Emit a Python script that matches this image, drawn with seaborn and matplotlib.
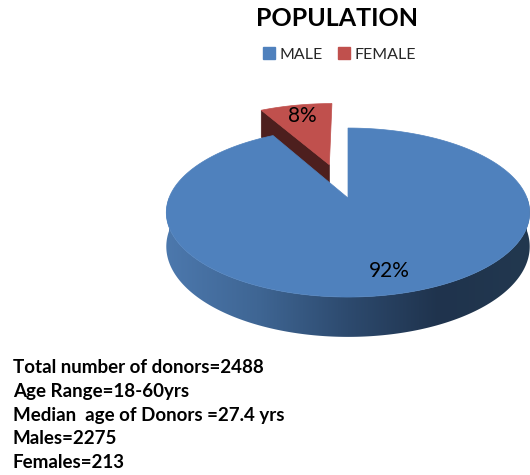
import numpy as np
import matplotlib
matplotlib.use("Agg")
import matplotlib.pyplot as plt
import seaborn as sns
from matplotlib.patches import Polygon
from matplotlib.lines import Line2D

# ---------------- data ----------------
title = "POPULATION"
categories = ["MALE", "FEMALE"]
shares = [92, 8]                     # percent shown on the chart
explode = [0.0, 0.45]
top_colors = ["#4f81bd", "#c0504d"]
face_colors = ["#2b4769", "#4d1f1e"]
side_gradients = [["#4c78ad", "#3f6694", "#2d4a6e", "#1f334d", "#22384f"],
                  ["#8a3533", "#5a2322", "#4d1f1e"]]
info_lines = ["Total number of donors=2488",
              "Age Range=18-60yrs",
              "Median  age of Donors =27.4 yrs",
              "Males=2275",
              "Females=213"]

# ---------------- style ----------------
sns.set_theme(style="white")
plt.rcParams["font.family"] = ["Lato", "DejaVu Sans"]

W, Hpx = 530, 475
fig = plt.figure(figsize=(W / 100, Hpx / 100), dpi=100)
ax = fig.add_axes([0, 0, 1, 1])
ax.set_xlim(0, W)
ax.set_ylim(Hpx, 0)
ax.axis("off")

# projection of the 3D disc (simple perspective)
CX, CY, RX, RY, K, DEPTH = 348, 198, 179, 82, 0.172, 33


def proj(xd, yd, z=0.0):
    xd = np.asarray(xd, float)
    yd = np.asarray(yd, float)
    s = -yd
    f = 1.0 / (1.0 - K * s)
    return CX + RX * xd * f, CY + (RY * s + DEPTH * z) * f


total = float(sum(shares))
start = 90.0
slices = []
cum = 0.0
for i, v in enumerate(shares):
    t1 = start - cum / total * 360.0
    t2 = t1 - v / total * 360.0
    cum += v
    mid = np.deg2rad((t1 + t2) / 2)
    ox, oy = explode[i] * np.cos(mid), explode[i] * np.sin(mid)
    slices.append(dict(i=i, t1=t1, t2=t2, mid=mid, ox=ox, oy=oy))

# back slices first
order = sorted(slices, key=lambda d: -np.sin(d["mid"]))
zo = 1
for sl in order:
    i, t1, t2, ox, oy = sl["i"], sl["t1"], sl["t2"], sl["ox"], sl["oy"]
    # radial cut faces
    for ang, nrm in ((t1, t1 + 90.0), (t2, t2 - 90.0)):
        if np.sin(np.deg2rad(nrm)) < -1e-6:
            a = np.deg2rad(ang)
            px = [ox, ox + np.cos(a), ox + np.cos(a), ox]
            py = [oy, oy + np.sin(a), oy + np.sin(a), oy]
            X, Y = proj(px, py, np.array([0, 0, 1, 1], float))
            ax.add_patch(Polygon(np.column_stack([X, Y]), closed=True,
                                 facecolor=face_colors[i], edgecolor=face_colors[i],
                                 lw=0.5, zorder=zo))
            zo += 1
    # outer curved side (front half only), shaded with a horizontal gradient
    lo, hi = max(t2, -180.0), min(t1, 0.0)
    if hi > lo:
        cmap = sns.blend_palette(side_gradients[i], n_colors=256, as_cmap=True)
        th = np.deg2rad(np.linspace(hi, lo, 300))
        xt, yt = proj(ox + np.cos(th), oy + np.sin(th), 0.0)
        xb, yb = proj(ox + np.cos(th), oy + np.sin(th), 1.0)
        X = np.concatenate([xt, xb[::-1]])
        Y = np.concatenate([yt, yb[::-1]])
        side = Polygon(np.column_stack([X, Y]), closed=True, facecolor="none",
                       edgecolor="none", zorder=zo)
        ax.add_patch(side)
        grad = np.linspace(0, 1, 512)[None, :]
        im = ax.imshow(grad, cmap=cmap, aspect="auto", interpolation="bilinear",
                       extent=(X.min(), X.max(), Y.max(), Y.min()), zorder=zo)
        im.set_clip_path(side)
        zo += 1
    # top face
    th = np.deg2rad(np.linspace(t1, t2, 300))
    px = np.concatenate([[ox], ox + np.cos(th)])
    py = np.concatenate([[oy], oy + np.sin(th)])
    X, Y = proj(px, py)
    ax.add_patch(Polygon(np.column_stack([X, Y]), closed=True,
                         facecolor=top_colors[i], edgecolor=top_colors[i], lw=0.5,
                         zorder=zo))
    zo += 1

ax.set_xlim(0, W)
ax.set_ylim(Hpx, 0)

# percentage labels
for sl in slices:
    r = 0.8
    lx, ly = proj(sl["ox"] + r * np.cos(sl["mid"]), sl["oy"] + r * np.sin(sl["mid"]))
    ax.text(float(lx), float(ly), f"{shares[sl['i']]}%", ha="center", va="center",
            fontsize=15, color="black", zorder=zo + 1)

# title
ax.text(337, 18, title, ha="center", va="center", fontsize=18,
        fontweight="bold", color="black")

# legend
handles = [Line2D([], [], marker="s", linestyle="none", markersize=8,
                  markerfacecolor=c, markeredgecolor=c) for c in top_colors]
ax.legend(handles, categories, loc="center", bbox_to_anchor=(340, 55),
          bbox_transform=ax.transData, ncol=2, frameon=False, fontsize=11.5,
          handlelength=0.7, handletextpad=0.3, columnspacing=1.0,
          borderaxespad=0, borderpad=0)

# info block
for k, line in enumerate(info_lines):
    ax.text(13, 373 + k * 23.8, line, ha="left", va="baseline", fontsize=13.5,
            fontweight="bold", color="black")

fig.savefig("out.png", dpi=100)
